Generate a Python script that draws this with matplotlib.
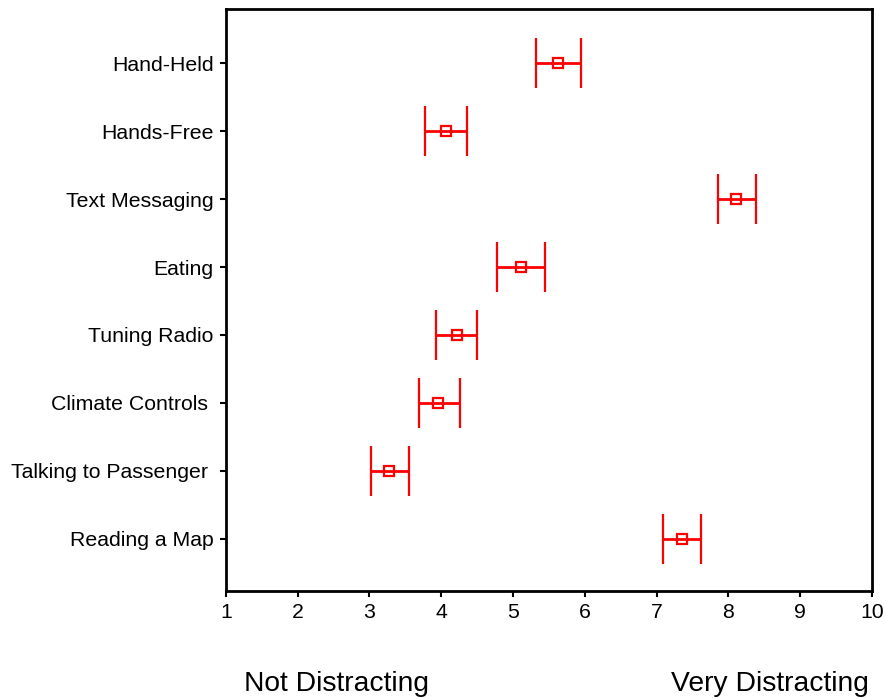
import matplotlib.pyplot as plt
import numpy as np

plt.rcParams['font.family'] = ['Liberation Sans', 'DejaVu Sans']

# rating of each task, top to bottom
tasks = ['Hand-Held', 'Hands-Free', 'Text Messaging', 'Eating', 'Tuning Radio',
         'Climate Controls ', 'Talking to Passenger ', 'Reading a Map']
means = [5.63, 4.07, 8.11, 5.11, 4.22, 3.96, 3.27, 7.36]
lower = [5.32, 3.78, 7.85, 4.78, 3.93, 3.69, 3.02, 7.09]
upper = [5.95, 4.36, 8.38, 5.44, 4.50, 4.26, 3.55, 7.62]
xticks = list(range(1, 11))

means = np.array(means)
err = np.vstack([means - np.array(lower), np.array(upper) - means])
ypos = np.arange(len(tasks))[::-1] + 1

fig = plt.figure(figsize=(8.86, 7.0), dpi=100)
ax = fig.add_axes([0.255, 0.156, 0.729, 0.831])

ax.errorbar(means, ypos, xerr=err, fmt='s', color='red', mfc='none', mec='red',
            ms=7, mew=1.6, elinewidth=2, capsize=18, capthick=2)

ax.set_xlim(1, 10)
ax.set_ylim(0.23, 8.8)
ax.set_xticks(xticks)
ax.set_yticks(ypos)
ax.set_yticklabels(tasks)
ax.tick_params(axis='both', direction='out', length=4, width=1.5, labelsize=15.3, pad=5)
for s in ax.spines.values():
    s.set_linewidth(2)

fig.text(337 / 886, 1 - 684 / 700, 'Not Distracting', ha='center', va='center', fontsize=20.3)
fig.text(770 / 886, 1 - 684 / 700, 'Very Distracting', ha='center', va='center', fontsize=20.3)

fig.savefig('out.png', dpi=100)
